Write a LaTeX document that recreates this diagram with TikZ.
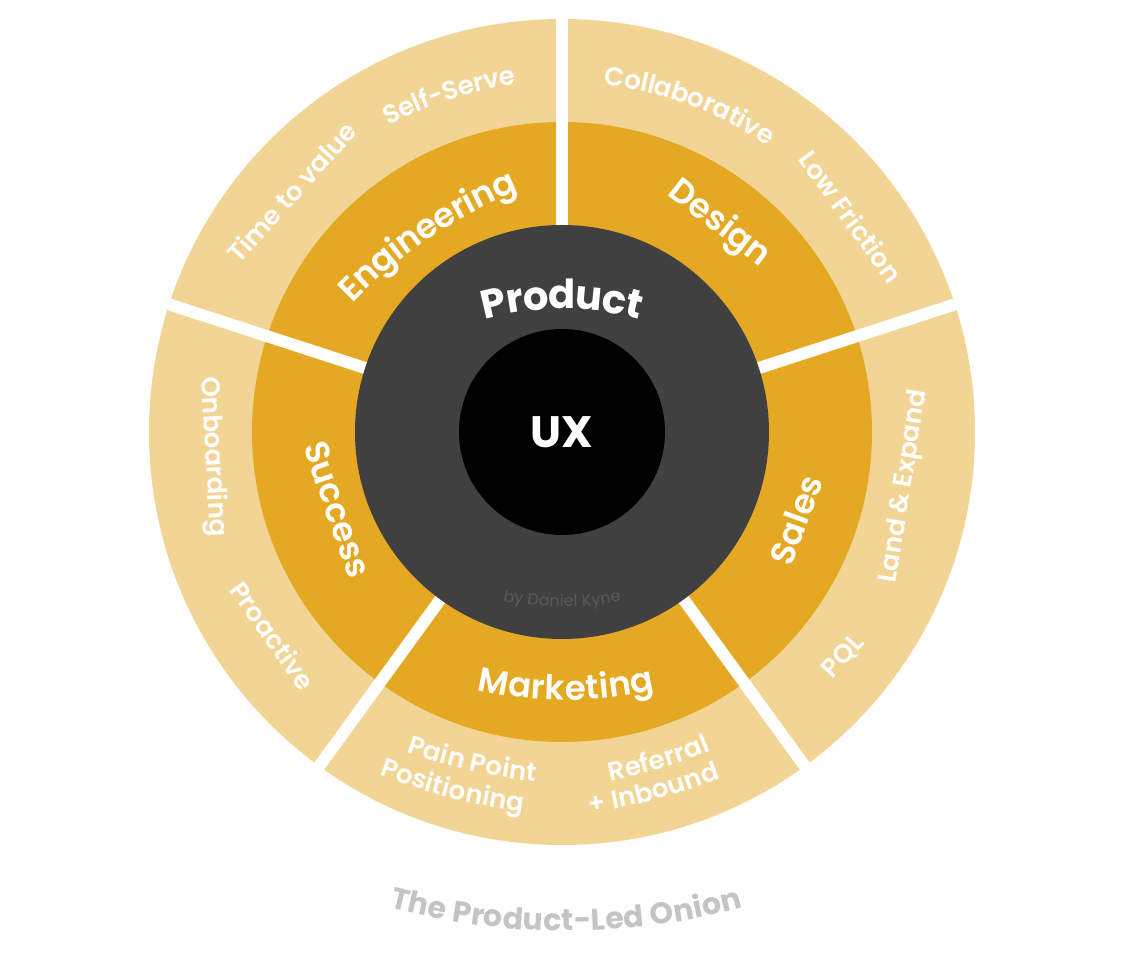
\documentclass[tikz,border=0pt]{standalone}
\usepackage{fontspec}
\setmainfont{Poppins}
\newfontfamily\labsemi{Poppins SemiBold}
\usepackage{tikz}
\usetikzlibrary{decorations.text}

\definecolor{onionlight}{HTML}{F2D494}
\definecolor{oniongold}{HTML}{E5A823}
\definecolor{oniondark}{HTML}{404040}
\definecolor{oniontitle}{HTML}{C4C4C4}
\definecolor{onionsign}{HTML}{595959}

\tikzset{
	gapline/.style={draw=white, line width=9pt},
	flatlabel/.style={text=white, inner sep=0pt, text height=0.6em, text depth=0pt, anchor=center},
	ringfont/.style={font=\labsemi\fontsize{25.5}{25.5}\selectfont},
	outerfont/.style={font=\labsemi\fontsize{19.5}{19.5}\selectfont}
}

% curved label: x, y (middle of text), reading angle, radius, arch(1)/smile(-1), size(px), font, colour, text
\newcommand{\ringtext}[9]{%
  \pgfmathsetmacro{\rtphi}{#3+90*#5}%
  \pgfmathsetmacro{\rtdel}{15000/#4}%
  \pgfmathsetmacro{\rtstart}{\rtphi+#5*\rtdel}%
  \pgfmathsetmacro{\rtend}{\rtphi-#5*\rtdel}%
  \pgfmathsetmacro{\rtx}{#1+#4*(cos(\rtstart)-cos(\rtphi))}%
  \pgfmathsetmacro{\rty}{#2+#4*(sin(\rtstart)-sin(\rtphi))}%
  \pgfmathsetmacro{\rtfs}{0.75*#6}%
  \pgfmathsetmacro{\rtraise}{-0.3*\rtfs}%
  \path[decorate, decoration={text along path, text align=center, raise=\rtraise pt,
    text color=#8, text={|#7\fontsize{\rtfs pt}{\rtfs pt}\selectfont|#9}}]
    (\rtx,\rty) arc[start angle=\rtstart, end angle=\rtend, radius=#4];%
}

\begin{document}
\begin{tikzpicture}[x=0.75pt, y=0.75pt]
	\fill[white] (-562,-541) rectangle (563,432);
	\useasboundingbox (-562,-541) rectangle (563,432);
	% Rings and gaps:
	\fill[onionlight] (0,0) circle[radius=413];
	\fill[oniongold] (0,0) circle[radius=310];
	\foreach \a in {18,90,162,234,306}
		\draw[gapline] (0,0) -- (\a:425);
	\fill[oniondark] (0,0) circle[radius=207];
	\fill[black] (0,0) circle[radius=103];
	\node[font=\bfseries\fontsize{33}{33}\selectfont, text=white] (ux) at (0,0) {UX};
	% Inner labels:
	\ringtext{0}{135}{0}{300}{1}{40}{\bfseries}{white}{Product}
	\ringtext{0}{-170}{0}{300}{-1}{16}{\mdseries}{onionsign}{by Daniel Kyne}
	\ringtext{-138}{202}{34}{500}{1}{34}{\labsemi}{white}{Engineering}
	\node[flatlabel, ringfont, rotate=-38] (design) at (154,204) {Design};
	\node[flatlabel, ringfont, rotate=70] (sales) at (242,-91) {Sales};
	\node[flatlabel, ringfont, rotate=-71] (success) at (-232,-80) {Success};
	\ringtext{4}{-258}{0}{380}{-1}{34}{\labsemi}{white}{Marketing}
	% Outer labels:
	\node[flatlabel, outerfont, rotate=48] (ttv) at (-266,236) {Time to value};
	\ringtext{-114}{340}{18}{400}{1}{26}{\labsemi}{white}{Self-Serve}
	\ringtext{130}{334}{-20.5}{370}{1}{26}{\labsemi}{white}{Collaborative}
	\node[flatlabel, outerfont, rotate=-54] (lowfr) at (284,212) {Low Friction};
	\node[flatlabel, outerfont, rotate=81] (landexp) at (345,-55) {Land \& Expand};
	\node[flatlabel, outerfont, rotate=48] (pql) at (284,-227) {PQL};
	\node[flatlabel, outerfont, rotate=-87] (onboard) at (-352,-25) {Onboarding};
	\node[flatlabel, outerfont, rotate=-55] (proact) at (-294,-207) {Proactive};
	\ringtext{-90}{-331}{-13}{600}{-1}{26}{\labsemi}{white}{Pain Point}
	\ringtext{-110}{-358}{-14.5}{600}{-1}{26}{\labsemi}{white}{Positioning}
	\ringtext{97}{-329}{17}{600}{-1}{26}{\labsemi}{white}{Referral}
	\ringtext{92}{-360}{15}{600}{-1}{26}{\labsemi}{white}{+ Inbound}
	% Title:
	\ringtext{4}{-490}{0}{664}{-1}{30}{\bfseries}{oniontitle}{The Product-Led Onion}
\end{tikzpicture}
\end{document}
